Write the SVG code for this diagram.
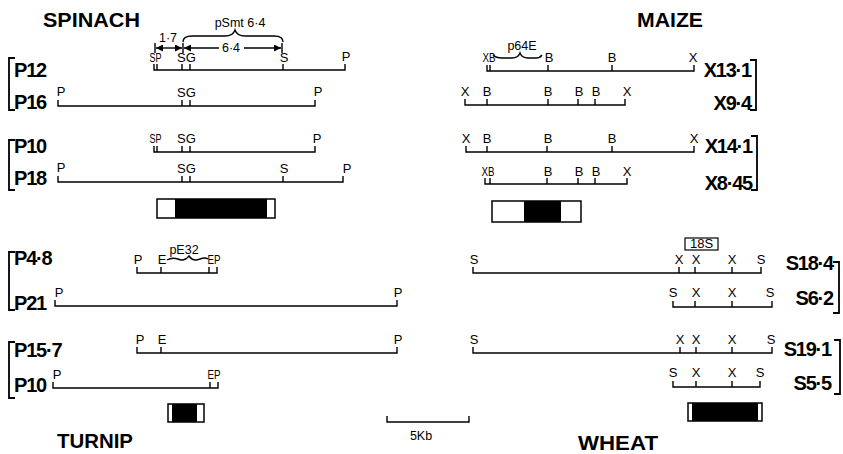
<svg xmlns="http://www.w3.org/2000/svg" width="843" height="454" viewBox="0 0 843 454">
<style>
.t{font-family:"Liberation Sans",Arial,sans-serif;font-weight:bold;font-size:20px;fill:#000}
.l{font-family:"Liberation Sans",Arial,sans-serif;font-weight:bold;font-size:20px;fill:#000;letter-spacing:-1.2px}
.s{font-family:"Liberation Sans",Arial,sans-serif;font-size:13px;fill:#000;text-anchor:middle}
.m{font-family:"Liberation Sans",Arial,sans-serif;font-size:12.5px;fill:#000}
.ln{fill:none;stroke:#000;stroke-width:1.4}
.br{fill:none;stroke:#000;stroke-width:1.8}
.bx{fill:#fff;stroke:#000;stroke-width:1.5}
</style>
<defs>
<marker id="ah" viewBox="0 0 10 10" refX="10" refY="5" markerWidth="7" markerHeight="7" orient="auto-start-reverse" markerUnits="userSpaceOnUse">
<path d="M0,0 L10,5 L0,10 z" fill="#000"/>
</marker>
</defs>

<!-- titles -->
<g id="titles">
<text class="t" x="43" y="27" textLength="97" lengthAdjust="spacingAndGlyphs">SPINACH</text>
<text class="t" x="637" y="27" textLength="66" lengthAdjust="spacingAndGlyphs">MAIZE</text>
<text class="t" x="57" y="448" textLength="76" lengthAdjust="spacingAndGlyphs">TURNIP</text>
<text class="t" x="578" y="450" textLength="80" lengthAdjust="spacingAndGlyphs">WHEAT</text>
</g>

<!-- spinach -->
<g id="spinach-brackets">
<path class="br" d="M15,58 H9 V110 H15"/>
<path class="br" d="M15,140 H9 V190 H15"/>
</g>
<g id="pSmt">
<text class="m" x="240" y="27" text-anchor="middle">pSmt 6·4</text>
<path class="ln" d="M183,42 Q183,36 192,36 L225,36 Q233,36 235,30 Q237,36 245,36 L274,36 Q283,36 283,42"/>
<text class="m" x="168" y="42" text-anchor="middle" font-size="11.5">1·7</text>
<path class="ln" d="M155,43 V53 M183,43 V53 M282,43 V53"/>
<line class="ln" x1="156" y1="48" x2="182" y2="48" marker-start="url(#ah)" marker-end="url(#ah)"/>
<line class="ln" x1="184" y1="48" x2="219" y2="48" marker-start="url(#ah)"/>
<line class="ln" x1="244" y1="48" x2="281" y2="48" marker-end="url(#ah)"/>
<text class="m" x="231" y="52" text-anchor="middle">6·4</text>
</g>
<g id="P12">
<text class="l" x="14" y="77">P12</text>
<path class="ln" d="M154,64 V70 H345 V64 M157,64 V70 M182,64 V70 M190,64 V70 M283,64 V70"/>
<text class="s" x="155.5" y="62" textLength="12" lengthAdjust="spacingAndGlyphs">SP</text>
<text class="s" x="186.5" y="62">SG</text>
<text class="s" x="284" y="62">S</text>
<text class="s" x="346" y="61">P</text>
</g>
<g id="P16">
<text class="l" x="14" y="109">P16</text>
<path class="ln" d="M58,100 V106 H315 V100 M182,100 V106 M190,100 V106"/>
<text class="s" x="61" y="96">P</text>
<text class="s" x="186.5" y="97">SG</text>
<text class="s" x="318" y="96">P</text>
</g>
<g id="P10a">
<text class="l" x="14" y="153">P10</text>
<path class="ln" d="M154,146 V152 H315 V146 M157,146 V152 M182,146 V152 M190,146 V152"/>
<text class="s" x="155.5" y="143" textLength="12" lengthAdjust="spacingAndGlyphs">SP</text>
<text class="s" x="186.5" y="143">SG</text>
<text class="s" x="317" y="143">P</text>
</g>
<g id="P18">
<text class="l" x="14" y="185">P18</text>
<path class="ln" d="M58,176 V182 H343 V176 M182,176 V182 M190,176 V182 M283,176 V182"/>
<text class="s" x="61" y="172">P</text>
<text class="s" x="186.5" y="173">SG</text>
<text class="s" x="284" y="173">S</text>
<text class="s" x="347" y="173">P</text>
</g>
<g id="spinach-probe">
<rect class="bx" x="157" y="199" width="118" height="19"/>
<rect x="175" y="199" width="92" height="19" fill="#000"/>
</g>

<!-- maize -->
<g id="maize-brackets">
<path class="br" d="M750,60 H756 V110 H750"/>
<path class="br" d="M751,136 H757 V190 H751"/>
</g>
<g id="p64E">
<text class="m" x="522" y="50" text-anchor="middle">p64E</text>
<path class="ln" d="M493,55 Q496,58 502,58 L512,58 Q518,58 520,53 Q522,58 528,58 L536,58 Q540,58 542,55"/>
</g>
<g id="X13-1">
<text class="l" x="751" y="77" text-anchor="end">X13·1</text>
<path class="ln" d="M487,65 V71 H694 V65 M490,65 V71 M548,65 V71 M612,65 V71"/>
<text class="s" x="489" y="62" textLength="13" lengthAdjust="spacingAndGlyphs">XB</text>
<text class="s" x="549" y="62">B</text>
<text class="s" x="612" y="62">B</text>
<text class="s" x="693" y="62">X</text>
</g>
<g id="X9-4">
<text class="l" x="751" y="110" text-anchor="end">X9·4</text>
<path class="ln" d="M465,99 V105 H625 V99 M487,99 V105 M548,99 V105 M578,99 V105 M595,99 V105"/>
<text class="s" x="465" y="96">X</text>
<text class="s" x="487" y="96">B</text>
<text class="s" x="548" y="96">B</text>
<text class="s" x="579" y="96">B</text>
<text class="s" x="596" y="96">B</text>
<text class="s" x="627" y="96">X</text>
</g>
<g id="X14-1">
<text class="l" x="752" y="153" text-anchor="end">X14·1</text>
<path class="ln" d="M466,146 V152 H694 V146 M487,146 V152 M547,146 V152 M612,146 V152"/>
<text class="s" x="466" y="143">X</text>
<text class="s" x="487" y="143">B</text>
<text class="s" x="548" y="143">B</text>
<text class="s" x="612" y="143">B</text>
<text class="s" x="694" y="143">X</text>
</g>
<g id="X8-45">
<text class="l" x="752" y="190" text-anchor="end">X8·45</text>
<path class="ln" d="M485,178 V184 H627 V178 M490,178 V184 M547,178 V184 M578,178 V184 M595,178 V184"/>
<text class="s" x="488" y="176" textLength="13" lengthAdjust="spacingAndGlyphs">XB</text>
<text class="s" x="548" y="176">B</text>
<text class="s" x="579" y="176">B</text>
<text class="s" x="596" y="176">B</text>
<text class="s" x="627" y="176">X</text>
</g>
<g id="maize-probe">
<rect class="bx" x="492" y="201" width="89" height="21"/>
<rect x="524" y="201" width="37" height="21" fill="#000"/>
</g>

<!-- turnip -->
<g id="turnip-brackets">
<path class="br" d="M15,252 H9 V310 H15"/>
<path class="br" d="M15,342 H9 V398 H15"/>
</g>
<g id="pE32">
<text class="m" x="184" y="254" text-anchor="middle">pE32</text>
<path class="ln" d="M167,260 Q172,257 178,259 Q184,262 189,256 Q193,262 200,259 Q205,257 208,259"/>
</g>
<g id="P4-8">
<text class="l" x="14" y="265">P4·8</text>
<path class="ln" d="M137,267 V273 H217 V267 M161,267 V273 M209,267 V273"/>
<text class="s" x="138" y="264">P</text>
<text class="s" x="162" y="264">E</text>
<text class="s" x="214" y="264" textLength="13" lengthAdjust="spacingAndGlyphs">EP</text>
</g>
<g id="P21">
<text class="l" x="14" y="310">P21</text>
<path class="ln" d="M55,300 V306 H397 V300"/>
<text class="s" x="59" y="297">P</text>
<text class="s" x="398" y="297">P</text>
</g>
<g id="P15-7">
<text class="l" x="14" y="357">P15·7</text>
<path class="ln" d="M137,347 V353 H397 V347 M161,347 V353"/>
<text class="s" x="140" y="344">P</text>
<text class="s" x="162" y="344">E</text>
<text class="s" x="398" y="344">P</text>
</g>
<g id="P10b">
<text class="l" x="14" y="392">P10</text>
<path class="ln" d="M53,382 V388 H218 V382 M210,382 V388"/>
<text class="s" x="57" y="379">P</text>
<text class="s" x="214" y="379" textLength="13" lengthAdjust="spacingAndGlyphs">EP</text>
</g>
<g id="turnip-probe">
<rect class="bx" x="168" y="404" width="36" height="18"/>
<rect x="172" y="404" width="25" height="18" fill="#000"/>
</g>

<!-- scale -->
<g id="scale">
<path class="ln" d="M387,416 V422 H469 V416"/>
<text class="m" x="421" y="440" text-anchor="middle">5Kb</text>
</g>

<!-- wheat -->
<g id="wheat-brackets">
<path class="br" d="M833,262 H839 V313 H833"/>
<path class="br" d="M834,340 H840 V394 H834"/>
</g>
<g id="rRNA18S">
<rect x="685" y="238" width="33" height="12" fill="#fff" stroke="#000" stroke-width="1.2"/>
<text class="s" x="701.5" y="248" font-size="11">18S</text>
</g>
<g id="S18-4">
<text class="l" x="833" y="270" text-anchor="end">S18·4</text>
<path class="ln" d="M473,267 V273 H761 V267 M679,267 V273 M695,267 V273 M732,267 V273"/>
<text class="s" x="474" y="264">S</text>
<text class="s" x="679" y="264">X</text>
<text class="s" x="696" y="264">X</text>
<text class="s" x="732" y="264">X</text>
<text class="s" x="761" y="264">S</text>
</g>
<g id="S6-2">
<text class="l" x="833" y="305" text-anchor="end">S6·2</text>
<path class="ln" d="M673,301 V307 H772 V301 M695,301 V307 M732,301 V307"/>
<text class="s" x="673" y="297">S</text>
<text class="s" x="696" y="297">X</text>
<text class="s" x="732" y="297">X</text>
<text class="s" x="770" y="297">S</text>
</g>
<g id="S19-1">
<text class="l" x="831" y="356" text-anchor="end">S19·1</text>
<path class="ln" d="M473,347 V353 H772 V347 M680,347 V353 M696,347 V353 M732,347 V353"/>
<text class="s" x="474" y="344">S</text>
<text class="s" x="680" y="344">X</text>
<text class="s" x="696" y="344">X</text>
<text class="s" x="732" y="344">X</text>
<text class="s" x="771" y="344">S</text>
</g>
<g id="S5-5">
<text class="l" x="831" y="390" text-anchor="end">S5·5</text>
<path class="ln" d="M673,381 V387 H760 V381 M696,381 V387 M732,381 V387"/>
<text class="s" x="673" y="377">S</text>
<text class="s" x="696" y="377">X</text>
<text class="s" x="732" y="377">X</text>
<text class="s" x="760" y="377">S</text>
</g>
<g id="wheat-probe">
<rect class="bx" x="688" y="403" width="74" height="18"/>
<rect x="692" y="403" width="66" height="18" fill="#000"/>
</g>
</svg>
